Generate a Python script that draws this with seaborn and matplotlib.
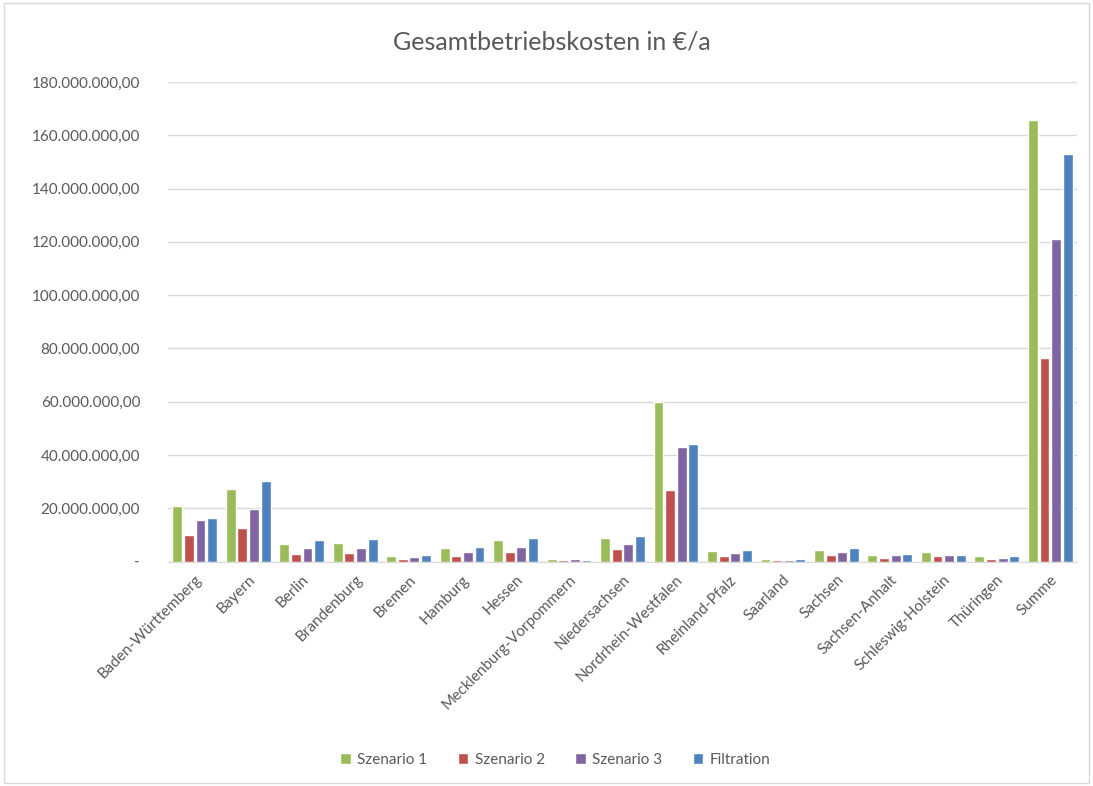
import matplotlib
matplotlib.use("Agg")
import matplotlib.pyplot as plt
import matplotlib.ticker as mticker
from matplotlib.patches import Rectangle
import pandas as pd
import seaborn as sns

# Werte in Mio. EUR
laender = ["Baden-Württemberg", "Bayern", "Berlin", "Brandenburg", "Bremen", "Hamburg",
           "Hessen", "Mecklenburg-Vorpommern", "Niedersachsen", "Nordrhein-Westfalen",
           "Rheinland-Pfalz", "Saarland", "Sachsen", "Sachsen-Anhalt", "Schleswig-Holstein",
           "Thüringen", "Summe"]
szenario1 = [21.0, 27.4, 6.75, 7.1, 2.1, 4.9, 7.9, 1.0, 8.9, 59.8, 3.9, 0.86, 4.4, 2.6, 3.6, 1.9, 165.6]
szenario2 = [10.1, 12.6, 2.9, 3.3, 1.0, 2.1, 3.6, 0.64, 4.6, 26.8, 2.0, 0.5, 2.4, 1.5, 2.0, 0.86, 76.5]
szenario3 = [15.4, 19.8, 4.9, 4.9, 1.7, 3.6, 5.6, 1.0, 6.75, 43.1, 3.1, 0.5, 3.4, 2.4, 2.6, 1.5, 120.9]
filtration = [16.5, 30.3, 7.9, 8.3, 2.5, 5.6, 8.9, 0.64, 9.4, 44.1, 4.4, 0.86, 5.1, 3.0, 2.6, 2.0, 152.8]

serien = {"Szenario 1": szenario1, "Szenario 2": szenario2,
          "Szenario 3": szenario3, "Filtration": filtration}
farben = ["#9BBB59", "#C0504D", "#8064A2", "#4F81BD"]

df = pd.DataFrame([(land, name, wert * 1e6)
                   for name, werte in serien.items()
                   for land, wert in zip(laender, werte)],
                  columns=["Land", "Serie", "Kosten"])

sns.set_style("white")
plt.rcParams["font.family"] = ["Lato", "DejaVu Sans"]
grau = "#595959"

fig = plt.figure(figsize=(10.93, 7.86), dpi=100)
ax = fig.add_axes([0.1537, 0.2856, 0.8317, 0.6101])

sns.barplot(data=df, x="Land", y="Kosten", hue="Serie", palette=farben,
            saturation=1, width=0.87, gap=0.15, ax=ax, legend=True)

ax.set_ylim(0, 180e6)
ax.yaxis.set_major_locator(mticker.MultipleLocator(20e6))


def de_format(v, pos):
    if v == 0:
        return "-"
    s = f"{v:,.2f}"
    return s.replace(",", "X").replace(".", ",").replace("X", ".")


ax.yaxis.set_major_formatter(mticker.FuncFormatter(de_format))
ax.grid(axis="y", color="#D9D9D9", linewidth=1)
ax.set_axisbelow(True)
for side in ["top", "right", "left"]:
    ax.spines[side].set_visible(False)
ax.spines["bottom"].set_color("#D9D9D9")
ax.set_xlabel("")
ax.set_ylabel("")
ax.tick_params(axis="y", length=0, labelsize=11, labelcolor=grau, pad=20)
ax.tick_params(axis="x", length=0, labelsize=11, labelcolor=grau, pad=8)
plt.setp(ax.get_xticklabels(), rotation=45, ha="right", rotation_mode="anchor")
ax.set_xlim(-0.5, len(laender) - 0.5)

handles, labels = ax.get_legend_handles_labels()
ax.get_legend().remove()
fig.legend(handles, labels, loc="center", bbox_to_anchor=(0.508, 0.033), ncol=4,
           frameon=False, fontsize=11, handlelength=0.7, handleheight=0.7,
           columnspacing=2.0, handletextpad=0.4, labelcolor=grau)

fig.text(0.505, 0.947, "Gesamtbetriebskosten in €/a", ha="center", va="center",
         fontsize=18, color=grau)
fig.patches.append(Rectangle((0.004, 0.004), 0.992, 0.992, transform=fig.transFigure,
                             fill=False, edgecolor="#D9D9D9", linewidth=1))

fig.savefig("out.png", dpi=100)
